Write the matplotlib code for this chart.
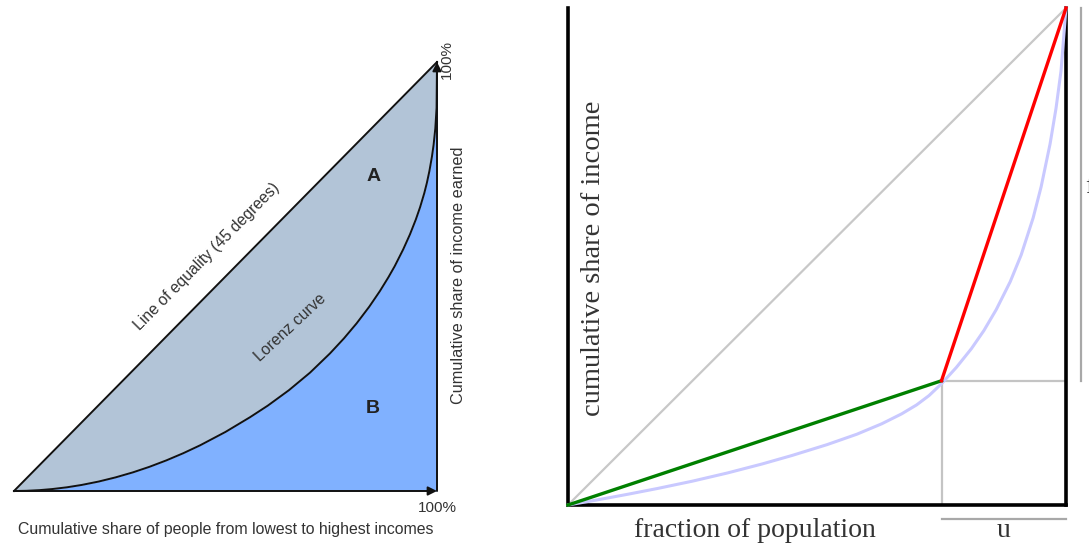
import matplotlib
matplotlib.use("Agg")
import matplotlib.pyplot as plt

# ---------------- data ----------------
# Left panel: Lorenz curve (fractions of population / income)
lorenz_x = [0, 0.03, 0.06, 0.09, 0.125, 0.16, 0.2, 0.24, 0.281, 0.32, 0.36,
            0.4, 0.44, 0.5, 0.558, 0.6, 0.65, 0.7, 0.747, 0.78, 0.81, 0.84,
            0.865, 0.885, 0.9, 0.92, 0.936, 0.95, 0.96, 0.97, 0.976, 0.982,
            0.988, 0.992, 0.996, 0.999, 1.0]
lorenz_y = [0, 0.0005, 0.002, 0.0045, 0.0086, 0.0141, 0.022, 0.0317, 0.0434,
            0.0563, 0.0713, 0.088, 0.1065, 0.1377, 0.172, 0.199, 0.235, 0.276,
            0.3207, 0.3557, 0.3908, 0.4298, 0.466, 0.498, 0.524, 0.563, 0.598,
            0.633, 0.6615, 0.6945, 0.718, 0.7456, 0.7792, 0.8072, 0.845, 0.893,
            1.0]
equality = [0, 1]

# Right panel
curve_x = [0, 0.06, 0.12, 0.18, 0.25, 0.32, 0.39, 0.45, 0.52, 0.58, 0.63,
           0.67, 0.70, 0.725, 0.75, 0.78, 0.81, 0.835, 0.86, 0.888, 0.91,
           0.934, 0.95, 0.968, 0.98, 0.99, 1.0]
curve_y = [0, 0.0105, 0.0216, 0.0333, 0.048, 0.0644, 0.0826, 0.0997, 0.1214,
           0.1424, 0.1634, 0.1834, 0.2014, 0.2202, 0.244, 0.277, 0.3145,
           0.3508, 0.3933, 0.4493, 0.5032, 0.5776, 0.64, 0.7264, 0.7984,
           0.8734, 1.0]
u_point = (0.75, 0.25)
green_x = [0, u_point[0]]
green_y = [0, u_point[1]]
red_x = [u_point[0], 1]
red_y = [u_point[1], 1]

W, H = 1089, 547
fig = plt.figure(figsize=(W / 100, H / 100), dpi=100)

def px_axes(x0, y_bottom, x1, y_top):
    return fig.add_axes([x0 / W, (H - y_bottom) / H, (x1 - x0) / W, (y_bottom - y_top) / H])

# ---------------- left panel ----------------
ax1 = px_axes(14, 491, 437, 62)
ax1.set_xlim(0, 1)
ax1.set_ylim(0, 1)
ax1.axis("off")

ax1.fill_between(lorenz_x, lorenz_y, lorenz_x, color="#b2c4d7", lw=0)
ax1.fill_between(lorenz_x, 0, lorenz_y, color="#80b1ff", lw=0)
ax1.plot(equality, equality, color="#111111", lw=1.4, clip_on=False)
ax1.plot(lorenz_x, lorenz_y, color="#111111", lw=1.4, clip_on=False)
arrow = dict(arrowstyle="-|>", color="#111111", lw=1.4, mutation_scale=13,
             shrinkA=0, shrinkB=0)
ax1.annotate("", xy=(1.0, 0), xytext=(0, 0), arrowprops=arrow, annotation_clip=False)
ax1.annotate("", xy=(1.0, 1.0), xytext=(1.0, 0), arrowprops=arrow, annotation_clip=False)

lfont = dict(family=["Liberation Sans", "DejaVu Sans"], color="#333333")
ax1.text(0.456, 0.547, "Line of equality (45 degrees)", rotation=45.4,
         ha="center", va="center", fontsize=11.3, **lfont)
ax1.text(0.653, 0.382, "Lorenz curve", rotation=43,
         ha="center", va="center", fontsize=11.3, **lfont)
ax1.text(0.851, 0.732, "A", ha="center", va="center", fontsize=14,
         fontweight="bold", family=["Liberation Sans", "DejaVu Sans"], color="#222222")
ax1.text(0.848, 0.193, "B", ha="center", va="center", fontsize=14,
         fontweight="bold", family=["Liberation Sans", "DejaVu Sans"], color="#222222")
ax1.text(1.024, 1.005, "100%", rotation=90, ha="center", va="center",
         fontsize=11, **lfont)
ax1.text(1.0, -0.04, "100%", ha="center", va="center", fontsize=11, **lfont)
ax1.text(0.5, -0.09, "Cumulative share of people from lowest to highest incomes",
         ha="center", va="center", fontsize=11.4, **lfont)
ax1.text(1.052, 0.504, "Cumulative share of income earned", rotation=90,
         ha="center", va="center", fontsize=11.7, **lfont)

# ---------------- right panel ----------------
ax2 = px_axes(568, 505, 1066, 8)
ax2.set_xlim(0, 1)
ax2.set_ylim(0, 1)
ax2.set_xticks([])
ax2.set_yticks([])
ax2.patch.set_alpha(0)
for side in ("left", "bottom", "right"):
    ax2.spines[side].set_linewidth(2.6)
    ax2.spines[side].set_color("#000000")
ax2.spines["top"].set_visible(False)

ax2.plot(equality, equality, color="#c8c8c8", lw=1.6, clip_on=False, zorder=2)
ax2.plot([u_point[0], u_point[0]], [0, u_point[1]], color="#c4c4c4", lw=1.6, zorder=2)
ax2.plot([u_point[0], 1], [u_point[1], u_point[1]], color="#c4c4c4", lw=1.6, zorder=2)
ax2.plot(curve_x, curve_y, color="#c9c9ff", lw=2.2, clip_on=False, zorder=3)
ax2.plot(green_x, green_y, color="#008000", lw=2.4, clip_on=False, zorder=4)
ax2.plot(red_x, red_y, color="#ff0000", lw=2.4, clip_on=False, zorder=4)

# brackets outside the frame
ax2.plot([u_point[0], 1], [-0.028, -0.028], color="#a8a8a8", lw=1.6, clip_on=False)
ax2.plot([1.03, 1.03], [u_point[1], 1], color="#a8a8a8", lw=1.6, clip_on=False)

sfont = dict(family=["Liberation Serif", "DejaVu Serif"], color="#333333")
ax2.text(0.375, -0.0644, "fraction of population", ha="center", va="baseline",
         fontsize=20, **sfont)
ax2.text(0.875, -0.0644, "u", ha="center", va="baseline", fontsize=20, **sfont)
ax2.text(0.052, 0.497, "cumulative share of income", rotation=90,
         ha="center", va="center", fontsize=20.5, **sfont)
ax2.text(1.039, 0.64, "f", ha="left", va="center", fontsize=19, **sfont)

fig.savefig("out.png", dpi=100)
